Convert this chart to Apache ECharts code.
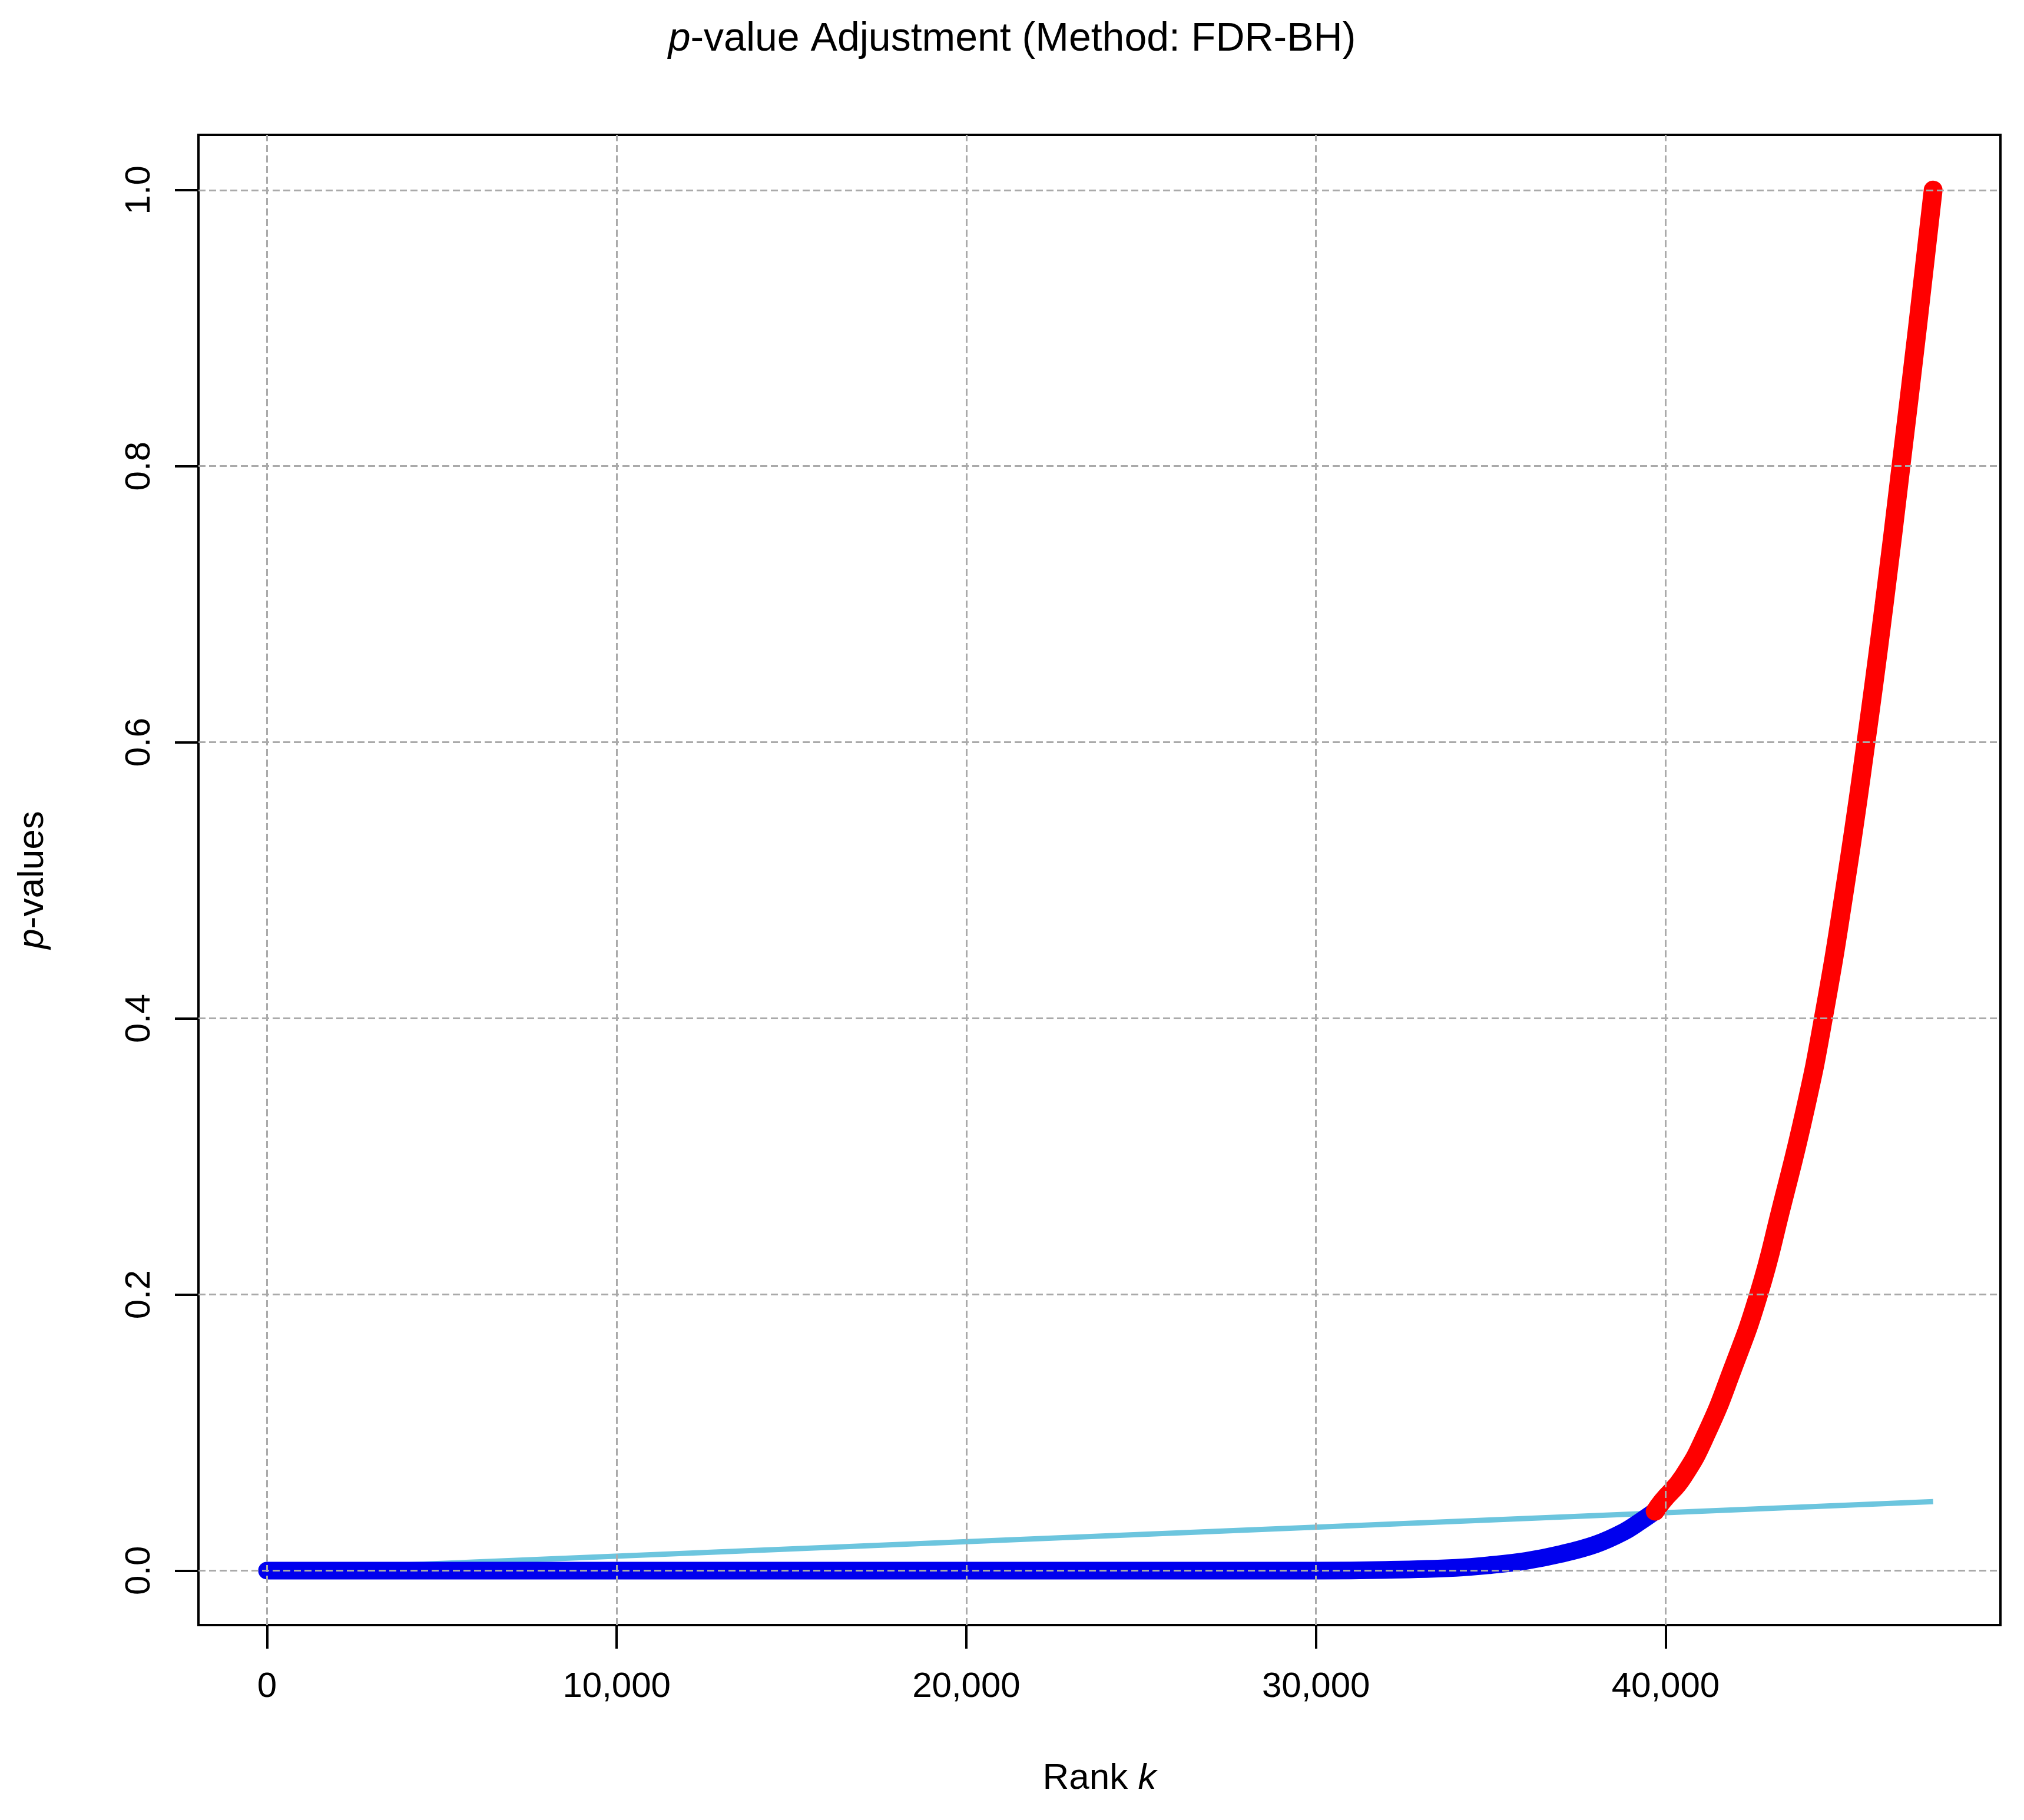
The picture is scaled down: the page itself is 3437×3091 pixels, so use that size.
<!DOCTYPE html>
<html><head><meta charset="utf-8">
<script src="https://cdn.jsdelivr.net/npm/echarts@6/dist/echarts.min.js"></script>
<style>html,body{margin:0;background:#fff}#c{width:3437px;height:3091px}</style>
</head><body><div id="c"></div>
<script>
const xTicks = [0, 10000, 20000, 30000, 40000];
const yTicks = [0, 0.2, 0.4, 0.6, 0.8, 1.0];
const blueSeries = [[0,0],[5000,0],[10000,0],[15000,0],[20000,0],[25000,0],[30000,0],[32000,0.0005],[34000,0.002],[35000,0.004],[36000,0.007],[37000,0.012],[38000,0.019],[38800,0.028],[39300,0.036],[39700,0.043]];
const redSeries = [[39700,0.043],[39900,0.05],[40500,0.068],[41180,0.1],[41900,0.145],[42660,0.2],[43300,0.262],[44000,0.335],[44510,0.4],[45130,0.495],[45730,0.6],[46250,0.7],[46730,0.8],[47200,0.9],[47650,1.0]];
const thresholdLine = [[0,0],[47650,0.05]];
const font = 'Liberation Sans';
const chart = echarts.init(document.getElementById('c'));
const grid = {type:'dashed', color:'#aaaaaa', width:3};
chart.setOption({
  animation:false,
  title:{text:'{i|p}-value Adjustment (Method: FDR-BH)', left:'center', top:28,
    textStyle:{rich:{i:{fontStyle:'italic',fontSize:68,fontFamily:font,color:'#000'}},fontSize:68,fontFamily:font,color:'#000',fontWeight:'normal'}},
  grid:{left:337,right:40,top:229,bottom:331,show:true,borderColor:'#000',borderWidth:4,backgroundColor:'transparent'},
  xAxis:{type:'value',min:-1960,max:49575,
    name:'Rank {i|k}',nameLocation:'middle',nameGap:230,
    nameTextStyle:{fontSize:62,fontFamily:font,color:'#000',rich:{i:{fontStyle:'italic',fontSize:62,fontFamily:font}}},
    axisLine:{show:false,onZero:false},
    axisTick:{show:true,customValues:xTicks,length:40,inside:false,lineStyle:{color:'#000',width:4}},
    axisLabel:{customValues:xTicks,fontSize:60,fontFamily:font,color:'#000',margin:75,
      formatter:v=>v.toLocaleString('en-US')},
    splitLine:{show:false}},
  yAxis:{type:'value',min:-0.0395,max:1.040,
    name:'{i|p}-values',nameLocation:'middle',nameGap:250,
    nameTextStyle:{fontSize:62,fontFamily:font,color:'#000',rich:{i:{fontStyle:'italic',fontSize:62,fontFamily:font}}},
    axisLine:{show:false,onZero:false},
    axisTick:{show:true,customValues:yTicks,length:40,lineStyle:{color:'#000',width:4}},
    axisLabel:{customValues:yTicks,rotate:90,fontSize:60,fontFamily:font,color:'#000',margin:70,
      formatter:v=>v.toFixed(1)},
    splitLine:{show:false}},
  series:[
    {type:'line',data:thresholdLine,symbol:'none',lineStyle:{color:'#6CC5DE',width:9},z:2},
    {type:'line',data:blueSeries,symbol:'none',smooth:0.4,lineStyle:{color:'#0000EE',width:30,cap:'round'},z:3},
    {type:'line',data:redSeries,symbol:'none',smooth:0.5,lineStyle:{color:'#FF0000',width:32,cap:'round'},z:4},
    {type:'line',data:[],z:5,markLine:{silent:true,symbol:'none',label:{show:false},lineStyle:grid,
      data:xTicks.map(v=>({xAxis:v})).concat(yTicks.map(v=>({yAxis:v})))}}
  ]
});
</script></body></html>
